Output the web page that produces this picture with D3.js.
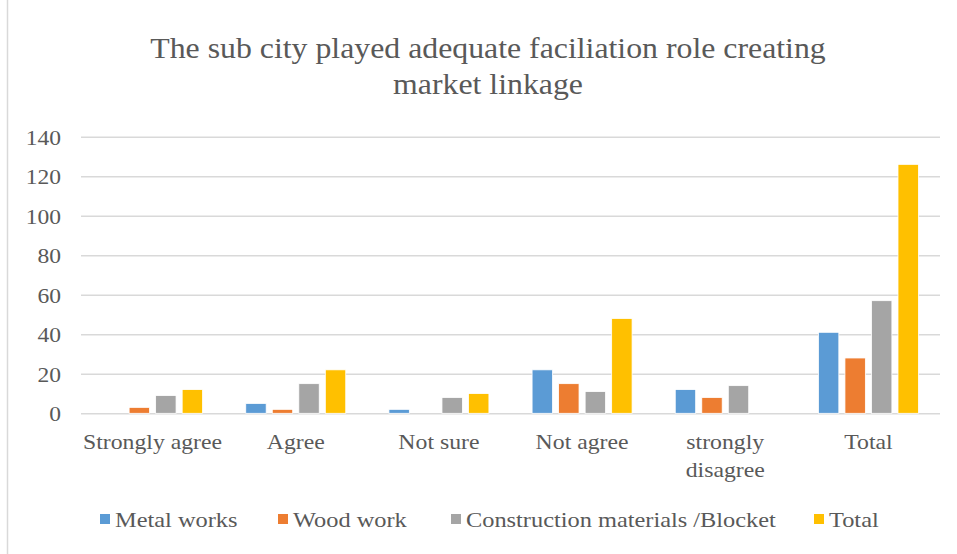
<!DOCTYPE html>
<html>
<head>
<meta charset="utf-8">
<script src="https://cdn.jsdelivr.net/npm/d3@7/dist/d3.min.js"></script>
<style>
  html, body { margin: 0; padding: 0; background: #fff; }
  svg { display: block; }
  text { font-family: "Liberation Serif", "Times New Roman", serif; fill: #595959; }
</style>
</head>
<body>
<script>
const titleLines = ["The sub city played adequate faciliation role creating", "market linkage"];
const categories = ["Strongly agree", "Agree", "Not sure", "Not agree", "strongly disagree", "Total"];
const categoryLines = [["Strongly agree"], ["Agree"], ["Not sure"], ["Not agree"], ["strongly", "disagree"], ["Total"]];
const seriesNames = ["Metal works", "Wood work", "Construction materials /Blocket", "Total"];
const seriesColors = ["#5b9bd5", "#ed7d31", "#a5a5a5", "#ffc000"];
const metalWorks = [0, 5, 2, 22, 12, 41];
const woodWork = [3, 2, 0, 15, 8, 28];
const construction = [9, 15, 8, 11, 14, 57];
const totalSeries = [12, 22, 10, 48, 0, 126];
const yTicks = [0, 20, 40, 60, 80, 100, 120, 140];

const seriesValues = [metalWorks, woodWork, construction, totalSeries];

const W = 957, H = 554;
const svg = d3.select("body").append("svg").attr("width", W).attr("height", H);

// widen glyphs horizontally (reference text is rendered wide)
function stretch(sel, factor) {
  sel.each(function () {
    const len = this.getComputedTextLength();
    d3.select(this).attr("textLength", len * factor).attr("lengthAdjust", "spacingAndGlyphs");
  });
}

// chart border
svg.append("rect").attr("x", 7.5).attr("y", -2).attr("width", W - 6).attr("height", H + 4)
  .attr("fill", "none").attr("stroke", "#d9d9d9").attr("stroke-width", 1.5);

const plot = { left: 81, right: 940, top: 136.7, bottom: 413.3 };

const x0 = d3.scaleBand().domain(categories).range([plot.left, plot.right]).padding(0);
const groupW = 100;
const x1 = d3.scaleBand().domain(seriesNames)
  .range([(x0.bandwidth() - groupW) / 2, (x0.bandwidth() + groupW) / 2])
  .paddingInner(0.23).paddingOuter(0);
const y = d3.scaleLinear().domain([0, 140]).range([plot.bottom, plot.top]);

// title
const title = svg.append("g");
titleLines.forEach((t, i) => {
  title.append("text").attr("text-anchor", "middle").attr("font-size", 30)
    .attr("x", 488).attr("y", 58 + i * 36).text(t);
});
stretch(title.selectAll("text"), 1.06);

// gridlines
const yAxis = d3.axisLeft(y).tickValues(yTicks).tickSize(-(plot.right - plot.left)).tickPadding(20);
const gy = svg.append("g").attr("transform", `translate(${plot.left},0)`).call(yAxis);
gy.select(".domain").remove();
gy.selectAll(".tick line").attr("stroke", "#d9d9d9").attr("stroke-width", 1.5);
gy.selectAll(".tick text").attr("font-size", 21).attr("fill", "#595959")
  .attr("font-family", "Liberation Serif, Times New Roman, serif").attr("dy", "0.35em");
stretch(gy.selectAll(".tick text"), 1.12);

// bars
const groups = svg.append("g").selectAll("g").data(categories).join("g")
  .attr("transform", c => `translate(${x0(c)},0)`);
groups.selectAll("rect")
  .data((c, ci) => seriesNames.map((s, si) => ({ s, si, v: seriesValues[si][ci] })))
  .join("rect")
  .attr("x", d => x1(d.s))
  .attr("width", x1.bandwidth())
  .attr("y", d => y(d.v))
  .attr("height", d => y(0) - y(d.v))
  .attr("fill", d => seriesColors[d.si])
  .attr("stroke", "#fff").attr("stroke-width", d => d.v > 0 ? 0.8 : 0);

// x labels
const xg = svg.append("g");
categories.forEach((c, i) => {
  categoryLines[i].forEach((line, li) => {
    xg.append("text").attr("text-anchor", "middle").attr("font-size", 21)
      .attr("x", x0(c) + x0.bandwidth() / 2).attr("y", 449 + li * 28).text(line);
  });
});
stretch(xg.selectAll("text"), 1.13);

// legend
const legendX = [100, 278, 451, 814];
const lg = svg.append("g").selectAll("g").data(seriesNames).join("g")
  .attr("transform", (d, i) => `translate(${legendX[i]},514)`);
lg.append("rect").attr("width", 10).attr("height", 10).attr("fill", (d, i) => seriesColors[i]);
lg.append("text").attr("x", 15).attr("y", 13).attr("font-size", 21).text(d => d);
stretch(lg.selectAll("text"), 1.16);
</script>
</body>
</html>
